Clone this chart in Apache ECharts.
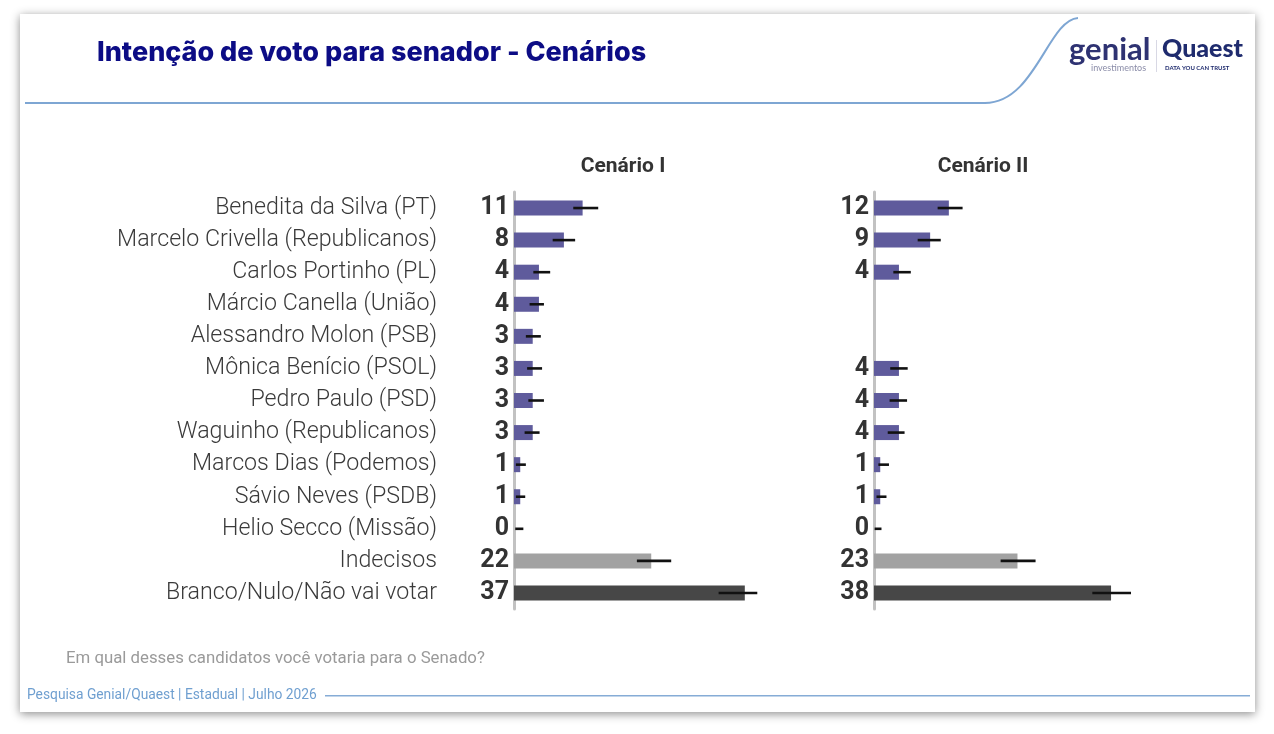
<!DOCTYPE html>
<html>
<head>
<meta charset="utf-8">
<script src="https://cdn.jsdelivr.net/npm/echarts@6/dist/echarts.min.js"></script>
<style>
html,body{margin:0;padding:0;background:#ffffff;}
#chart{width:1274px;height:734px;}
</style>
</head>
<body>
<div id="chart"></div>
<script>
var categories = [
  'Benedita da Silva (PT)',
  'Marcelo Crivella (Republicanos)',
  'Carlos Portinho (PL)',
  'Márcio Canella (União)',
  'Alessandro Molon (PSB)',
  'Mônica Benício (PSOL)',
  'Pedro Paulo (PSD)',
  'Waguinho (Republicanos)',
  'Marcos Dias (Podemos)',
  'Sávio Neves (PSDB)',
  'Helio Secco (Missão)',
  'Indecisos',
  'Branco/Nulo/Não vai votar'
];
var scenarioTitles = ['Cenário I', 'Cenário II'];
var cenario1 = [11, 8, 4, 4, 3, 3, 3, 3, 1, 1, 0, 22, 37];
var cenario2 = [12, 9, 4, null, null, 4, 4, 4, 1, 1, 0, 23, 38];
var err1Low  = [9.5, 6.2, 3.1, 2.5, 1.9, 2.1, 2.3, 1.7, 0.3, 0.3, 0.2, 19.7, 32.8];
var err1High = [13.5, 9.8, 5.8, 4.8, 4.3, 4.5, 4.8, 4.1, 1.9, 1.8, 1.5, 25.2, 39.0];
var err2Low  = [10.2, 7.0, 3.1, null, null, 2.6, 2.5, 2.2, 0.7, 0.4, 0.1, 20.3, 35.0];
var err2High = [14.2, 10.7, 5.9, null, null, 5.4, 5.3, 4.9, 2.4, 2.0, 1.2, 25.9, 41.2];

var PURPLE = '#5f5b9c', GRAY = '#a2a2a2', DARK = '#474747';
function barColor(i){
  if (categories[i] === 'Indecisos') return GRAY;
  if (categories[i] === 'Branco/Nulo/Não vai votar') return DARK;
  return PURPLE;
}
function barData(vals){
  return vals.map(function(v, i){
    return v === null ? '-' : { value: v, itemStyle: { color: barColor(i) } };
  });
}
function errData(lo, hi){
  var out = [];
  for (var i = 0; i < lo.length; i++) {
    if (lo[i] !== null) out.push([lo[i], hi[i], i]);
  }
  return out;
}
function errRender(params, api){
  var a = api.coord([api.value(0), api.value(2)]);
  var b = api.coord([api.value(1), api.value(2)]);
  return {
    type: 'line',
    shape: { x1: a[0], y1: a[1], x2: b[0], y2: b[1] },
    style: { stroke: '#111', lineWidth: 2.6 }
  };
}

var chart = echarts.init(document.getElementById('chart'), null, {renderer:'canvas'});
var GT = 192, GH = 417;
var barLabel = {
  show: true, position: 'left', distance: 5,
  fontFamily: 'Roboto', fontWeight: 'bold', fontSize: 25, color: '#333'
};
var option = {
  animation: false,
  backgroundColor: '#ffffff',
  graphic: [
    { type: 'rect', shape: { x: 20, y: 14, width: 1235, height: 698 },
      style: { fill: '#ffffff', shadowBlur: 9, shadowColor: 'rgba(0,0,0,0.45)', shadowOffsetY: 2 }, z: -10 },
    { type: 'line', shape: { x1: 25, y1: 103, x2: 985, y2: 103 },
      style: { stroke: '#7ea6d3', lineWidth: 2 }, z: -5 },
    { type: 'bezierCurve', shape: { x1: 985, y1: 103, cpx1: 1035, cpy1: 103, cpx2: 1048, cpy2: 20, x2: 1078, y2: 18 },
      style: { fill: null, stroke: '#7ea6d3', lineWidth: 2 }, z: -5 },
    { type: 'text', left: 97, top: 39,
      style: { text: 'Intenção de voto para senador - Cenários', fontFamily: 'Inter', fontWeight: 800,
               fontSize: 27, fill: '#0c0c85' } },
    { type: 'text', left: 1069, top: 34,
      style: { text: 'genial', fontFamily: 'Lato', fontWeight: 'bold', fontSize: 31, fill: '#2e3272' } },
    { type: 'text', left: 1091, top: 64,
      style: { text: 'investimentos', fontFamily: 'Lato', fontSize: 9, fill: '#8a8ca8' } },
    { type: 'rect', shape: { x: 1156, y: 40, width: 1, height: 32 }, style: { fill: '#d8d8e4' } },
    { type: 'text', left: 1162, top: 36,
      style: { text: 'Quaest', fontFamily: 'Lato', fontWeight: 900, fontSize: 25, fill: '#1f2b6e' } },
    { type: 'text', left: 1165, top: 65,
      style: { text: 'DATA YOU CAN TRUST', fontFamily: 'Lato', fontWeight: 'bold', fontSize: 6, fill: '#1f2b6e' } },
    { type: 'text', x: 623, y: 167,
      style: { text: scenarioTitles[0], fontFamily: 'Roboto', fontWeight: 'bold', fontSize: 21, fill: '#333',
               textAlign: 'center', textVerticalAlign: 'middle' } },
    { type: 'text', x: 983, y: 167,
      style: { text: scenarioTitles[1], fontFamily: 'Roboto', fontWeight: 'bold', fontSize: 21, fill: '#333',
               textAlign: 'center', textVerticalAlign: 'middle' } },
    { type: 'text', left: 66, top: 650,
      style: { text: 'Em qual desses candidatos você votaria para o Senado?', fontFamily: 'Roboto',
               fontSize: 16.8, fill: '#9a9a9a' } },
    { type: 'text', left: 27, top: 689,
      style: { text: 'Pesquisa Genial/Quaest | Estadual | Julho 2026', fontFamily: 'Roboto',
               fontSize: 13.8, fill: '#6f9fd0' } },
    { type: 'rect', shape: { x: 325, y: 695, width: 925, height: 1.5 }, style: { fill: '#86acd6' } }
  ],
  grid: [
    { left: 514, top: GT, width: 262, height: GH },
    { left: 874, top: GT, width: 262, height: GH }
  ],
  xAxis: [
    { gridIndex: 0, type: 'value', min: 0, max: 42, show: false },
    { gridIndex: 1, type: 'value', min: 0, max: 42, show: false }
  ],
  yAxis: [
    { gridIndex: 0, type: 'category', data: categories, inverse: true,
      axisLine: { show: true, lineStyle: { color: '#c2c2c2', width: 3 } },
      axisTick: { show: false },
      axisLabel: { margin: 77, fontFamily: 'Roboto', fontWeight: 300, fontSize: 23.2, color: '#3a3a3a' } },
    { gridIndex: 1, type: 'category', data: categories, inverse: true,
      axisLine: { show: true, lineStyle: { color: '#c2c2c2', width: 3 } },
      axisTick: { show: false }, axisLabel: { show: false } }
  ],
  series: [
    { type: 'bar', xAxisIndex: 0, yAxisIndex: 0, data: barData(cenario1), barWidth: 15, label: barLabel },
    { type: 'bar', xAxisIndex: 1, yAxisIndex: 1, data: barData(cenario2), barWidth: 15, label: barLabel },
    { type: 'custom', xAxisIndex: 0, yAxisIndex: 0, data: errData(err1Low, err1High),
      renderItem: errRender, clip: false, z: 5, encode: { x: [0, 1], y: 2 } },
    { type: 'custom', xAxisIndex: 1, yAxisIndex: 1, data: errData(err2Low, err2High),
      renderItem: errRender, clip: false, z: 5, encode: { x: [0, 1], y: 2 } }
  ]
};
chart.setOption(option);
</script>
</body>
</html>
